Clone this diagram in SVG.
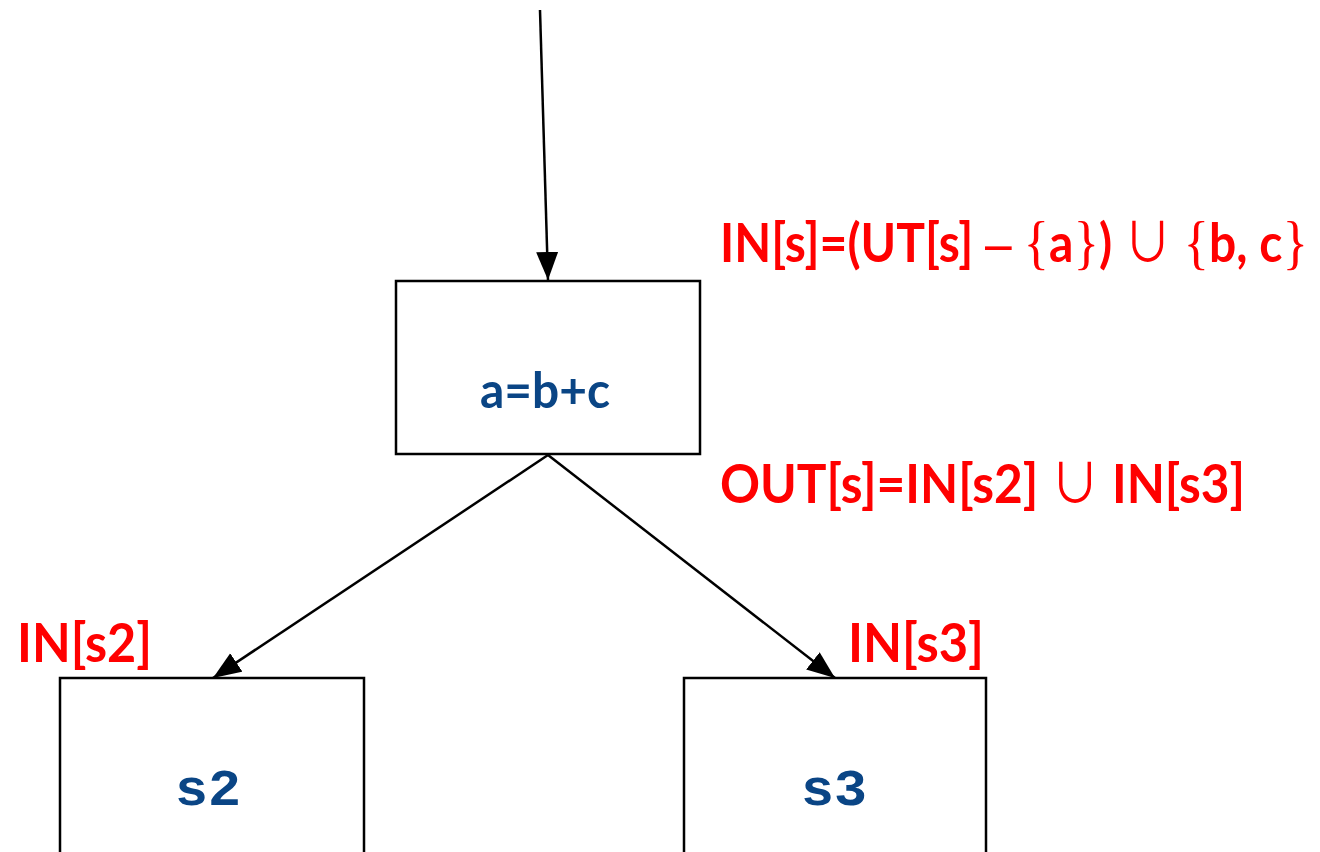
<svg xmlns="http://www.w3.org/2000/svg" width="1320" height="852" viewBox="0 0 1320 852">
<style>
.box{fill:#ffffff;stroke:#000000;stroke-width:2.5}
.edge{fill:none;stroke:#000000;stroke-width:2.5}
.lbl{font-family:Lato,"Open Sans","Liberation Sans",sans-serif;font-weight:bold;fill:#ff0000;font-size:54px}
.dash{font-family:"Liberation Sans",sans-serif;font-weight:normal}
.brace{font-family:"Liberation Serif",serif;font-weight:normal;font-size:60px}
.cup{font-family:"Noto Sans CJK SC","DejaVu Sans",sans-serif;font-weight:normal;font-size:54px}
.code{font-family:Lato,"Open Sans","Liberation Sans",sans-serif;font-weight:bold;fill:#0a4585;font-size:49px}
.mono{font-family:"Liberation Mono","DejaVu Sans Mono",monospace;font-weight:bold;fill:#0a4585;font-size:52px}
</style>
<defs>
<marker id="arr" markerUnits="userSpaceOnUse" markerWidth="30" markerHeight="24" refX="28" refY="11" orient="auto">
<path d="M0,0 L28,11 L0,22 z" fill="#000000"/>
</marker>
</defs>
<rect width="1320" height="852" fill="#ffffff"/>
<g id="connectors">
<line class="edge" x1="540" y1="10" x2="548" y2="280" marker-end="url(#arr)"/>
<line class="edge" x1="548" y1="455" x2="213" y2="678" marker-end="url(#arr)"/>
<line class="edge" x1="548" y1="455" x2="835" y2="678" marker-end="url(#arr)"/>
</g>
<g id="node-s">
<rect class="box" x="396" y="281" width="304" height="173"/>
<text class="code" x="545" y="408" text-anchor="middle" textLength="130" lengthAdjust="spacingAndGlyphs">a=b+c</text>
</g>
<g id="node-s2">
<rect class="box" x="60" y="678" width="304" height="200"/>
<text class="mono" x="208" y="805" text-anchor="middle" textLength="66" lengthAdjust="spacingAndGlyphs">s2</text>
</g>
<g id="node-s3">
<rect class="box" x="684" y="678" width="302" height="200"/>
<text class="mono" x="834" y="805" text-anchor="middle" textLength="66" lengthAdjust="spacingAndGlyphs">s3</text>
</g>
<g id="labels">
<text class="lbl" x="720" y="262" textLength="588" lengthAdjust="spacingAndGlyphs">IN[s]=(UT[s] <tspan class="dash">–</tspan> <tspan class="brace">{</tspan>a<tspan class="brace">}</tspan>) <tspan class="cup">∪</tspan> <tspan class="brace">{</tspan>b, c<tspan class="brace">}</tspan></text>
<text class="lbl" x="720" y="503" textLength="525" lengthAdjust="spacingAndGlyphs">OUT[s]=IN[s2] <tspan class="cup">∪</tspan> IN[s3]</text>
<text class="lbl" x="17" y="662" textLength="135" lengthAdjust="spacingAndGlyphs">IN[s2]</text>
<text class="lbl" x="848" y="662" textLength="136" lengthAdjust="spacingAndGlyphs">IN[s3]</text>
</g>
</svg>
